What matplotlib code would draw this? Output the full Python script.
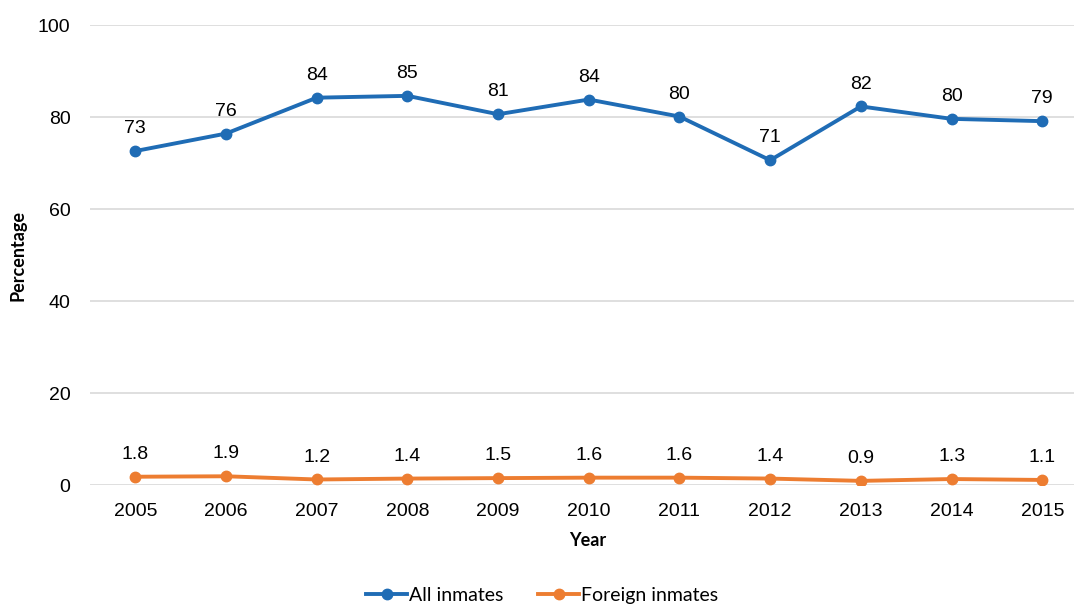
import matplotlib.pyplot as plt

years = ["2005", "2006", "2007", "2008", "2009", "2010",
         "2011", "2012", "2013", "2014", "2015"]
all_inmates = [72.6, 76.4, 84.2, 84.6, 80.6, 83.8, 80.1, 70.6, 82.3, 79.6, 79.1]
foreign_inmates = [1.8, 1.9, 1.2, 1.4, 1.5, 1.6, 1.6, 1.4, 0.9, 1.3, 1.1]

blue = "#1F6CB5"
orange = "#ED7D31"

fig = plt.figure(figsize=(10.74, 6.04), dpi=100)
ax = fig.add_axes([0.0838, 0.197, 0.9162, 0.7616])

x = list(range(len(years)))
ax.plot(x, all_inmates, color=blue, lw=2.8, marker="o", ms=7.5, label="All inmates", zorder=3)
ax.plot(x, foreign_inmates, color=orange, lw=2.8, marker="o", ms=7.5, label="Foreign inmates", zorder=3)

# étiquettes des valeurs
for i, v in enumerate(all_inmates):
    ax.annotate(f"{v:.0f}", (i, v), xytext=(0, 10), textcoords="offset points",
                ha="center", va="bottom", fontsize=14, family="Liberation Sans")
for i, v in enumerate(foreign_inmates):
    ax.annotate(f"{v:.1f}", (i, v), xytext=(0, 10), textcoords="offset points",
                ha="center", va="bottom", fontsize=14, family="Liberation Sans")

ax.set_ylim(0, 100)
ax.set_yticks(range(0, 101, 20))
ax.set_xlim(-0.5, 10.35)
ax.set_xticks(x, years)
ax.tick_params(length=0, labelsize=14, pad=14)
for lab in ax.get_xticklabels() + ax.get_yticklabels():
    lab.set_family("Liberation Sans")
ax.tick_params(axis="x", pad=13)
ax.grid(axis="y", color="#D9D9D9", lw=1.2)
ax.set_axisbelow(True)
for s in ax.spines.values():
    s.set_visible(False)

ax.set_xlabel("Year", fontsize=13, fontweight="bold", family="Lato")
ax.set_ylabel("Percentage", fontsize=13, fontweight="bold", family="Lato")
ax.xaxis.set_label_coords(0.506, -0.103)
ax.yaxis.set_label_coords(-0.065, 0.5)

fig.legend(loc="center", bbox_to_anchor=(0.505, 0.014), ncol=2, frameon=False,
           prop={"family": "Lato", "size": 14}, handlelength=2.1, columnspacing=1.8,
           handletextpad=0.1)

fig.savefig("out.png", dpi=100)
